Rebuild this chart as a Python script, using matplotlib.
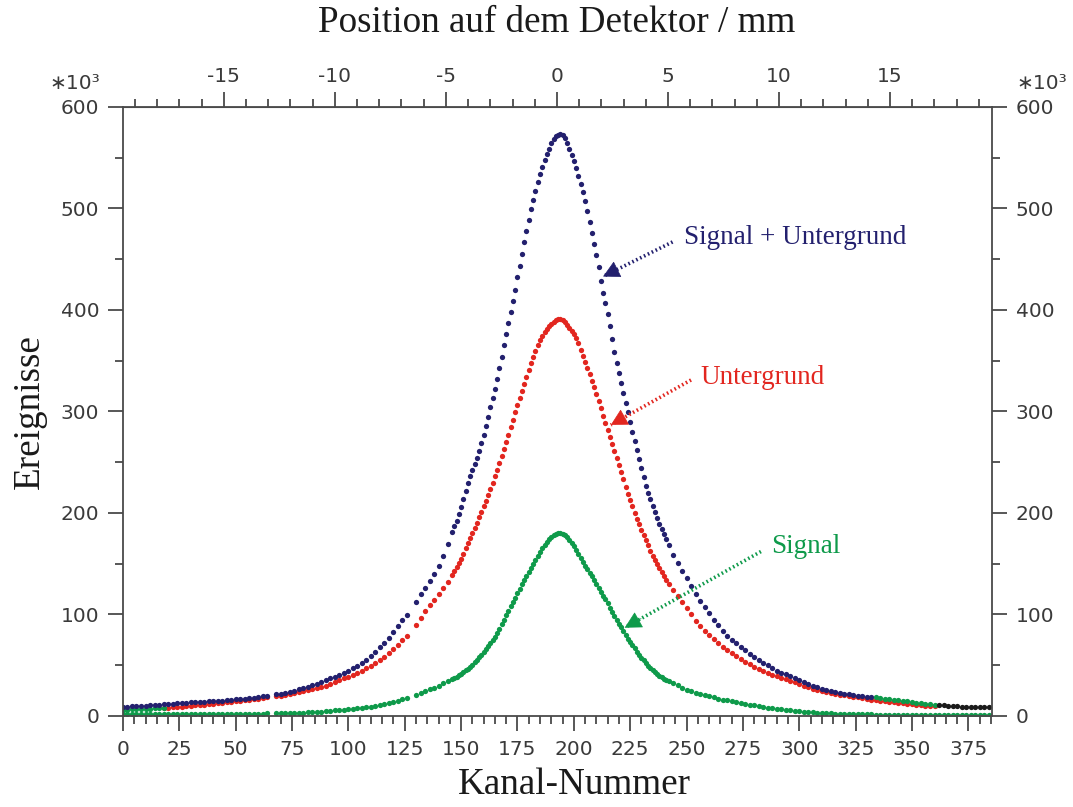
import numpy as np
import matplotlib
matplotlib.use("Agg")
import matplotlib.pyplot as plt
from matplotlib.ticker import MultipleLocator

# Kanal-Nummern: Flanken alle 2 Kanaele, Peakbereich jeder Kanal.
# Kanal 66 und 128 fehlen (Luecken im Original).
kanal = np.concatenate([np.arange(0, 146, 2), np.arange(146, 243), np.arange(244, 386, 2)])
kanal = kanal[(kanal != 66) & (kanal != 128)]

# Untergrund (rot), in 1e3 Ereignissen
untergrund = [
    # 0 .. 144 (step 2)
    6.0, 6.2, 6.4, 6.6, 6.8, 7.0, 7.2, 7.5, 7.8, 8.0,
    8.3, 8.6, 9.0, 9.3, 9.7, 10.0, 10.4, 10.8, 11.2, 11.6,
    12.0, 12.5, 13.0, 13.6, 14.2, 14.7, 15.2, 15.7, 16.2, 16.6,
    17.0, 17.6, 18.2, 19.3, 20.0, 20.8, 21.7, 22.6, 23.5,
    24.5, 25.5, 26.5, 27.6, 28.8, 30.0, 31.5, 33.2, 35.0, 37.0,
    38.8, 40.6, 42.5, 44.5, 46.8, 49.0, 52.0, 55.0, 58.5, 62.0,
    66.0, 70.0, 74.5, 79.0, 90.0, 97.0, 103.0, 109.0, 114.0,
    120.0, 126.0, 132.0,
    # 146 .. 242
    139, 143, 147, 151, 155, 160, 165, 170, 175, 180,
    185, 190, 196, 201, 207, 212, 218, 224, 230, 236,
    242, 249, 256, 263, 270, 277, 285, 292, 299, 306,
    313, 320, 327, 334, 341, 348, 354, 360, 365, 370,
    374, 378, 381, 384, 386, 388, 390, 391, 391, 390,
    388, 385, 382, 379, 376, 372, 367, 361, 355, 349,
    343, 337, 330, 324, 317, 310, 303, 296, 289, 282,
    275, 268, 261, 254, 247, 240, 233, 226, 219, 213,
    207, 200, 194, 189, 183, 178, 173, 168, 163, 158,
    154, 150, 146, 142, 138, 134, 130,
    # 244 .. 384 (step 2)
    124, 118, 112, 106, 100, 94, 89, 84, 80, 76,
    72, 68, 65, 62, 59, 56, 53, 51, 48.5, 46,
    44, 42, 40.5, 39, 37.5, 36, 34.5, 33, 31.5, 30,
    28.5, 27, 26, 25, 24, 23, 22, 21, 20.2, 19.5,
    19, 18.3, 17.5, 16.8, 16.2, 15.6, 15.0, 14.5, 14.0, 13.4,
    12.8, 12.3, 11.9, 11.5, 11.0, 10.6, 10.2, 9.8, 9.5, 9.2,
    9.0, 8.8, 8.6, 8.4, 8.2, 8.0, 7.8, 7.6, 7.4, 7.2,
    7.0,
]

# Signal + Untergrund (blau)
summe = [
    9.0, 9.2, 9.4, 9.6, 9.8, 10.0, 10.4, 10.8, 11.2, 11.5,
    11.8, 12.1, 12.4, 12.7, 13.1, 13.5, 13.7, 13.9, 14.1, 14.3,
    14.6, 14.9, 15.2, 15.5, 15.9, 16.3, 16.7, 17.1, 17.6, 18.1,
    18.7, 19.3, 19.9, 21.2, 22.0, 23.0, 24.0, 25.0, 26.2,
    27.5, 28.8, 30.1, 31.5, 33.0, 35.0, 37.0, 38.5, 40.0, 42.0,
    44.3, 46.8, 49.5, 52.3, 55.3, 59.0, 63.5, 67.5, 72.0, 77.0,
    83.0, 89.0, 94.5, 99.5, 112, 120, 126, 133, 140,
    148, 158, 169,
    181, 187, 192, 199, 206, 214, 222, 230, 236, 242,
    248, 254, 261, 269, 277, 286, 295, 304, 313, 322,
    332, 343, 354, 365, 376, 387, 398, 409, 420, 432,
    443, 455, 467, 478, 489, 499, 508, 517, 526, 534,
    541, 548, 554, 559, 564, 568, 571, 572, 573, 572,
    569, 564, 559, 553, 547, 540, 532, 524, 516, 507,
    497, 487, 476, 465, 454, 442, 429, 417, 407, 396,
    384, 371, 359, 348, 338, 328, 318, 308, 299, 290,
    280, 271, 262, 253, 244, 235, 227, 220, 214, 207,
    201, 195, 189, 184, 179, 174, 168,
    159, 151, 143, 136, 128, 120, 113, 107, 101, 95,
    89.5, 84, 79, 75, 71.5, 68, 64.5, 61, 58, 55,
    52.3, 49.8, 47.3, 44.5, 42.5, 41, 39, 37, 35, 33.2,
    31.5, 30, 28.5, 27, 26, 25, 24, 23, 22, 21.2,
    20.6, 20, 19.5, 19, 18.6, 18.2, 17.6, 17, 16.5, 16,
    15.5, 15, 14.3, 13.7, 13.1, 12.6, 12.1, 11.6, 11.1, 10.7,
    10.4, 10.1, 9.8, 9.5, 9.3, 9.1, 9.0, 8.8, 8.7, 8.8,
    9.2,
]

# Signal (gruen)
signal = [
    1.5, 1.5, 1.5, 1.5, 1.5, 1.5, 1.5, 1.6, 1.6, 1.6,
    1.7, 1.7, 1.7, 1.8, 1.8, 1.8, 1.9, 1.9, 1.9, 2.0,
    2.0, 2.0, 2.0, 2.1, 2.1, 2.1, 2.2, 2.2, 2.3, 2.3,
    2.4, 2.4, 2.5, 2.6, 2.7, 2.8, 2.9, 3.0, 3.2,
    3.4, 3.6, 3.8, 4.0, 4.3, 4.6, 5.0, 5.4, 5.8, 6.2,
    6.6, 7.0, 7.5, 8.0, 8.6, 9.2, 10.0, 10.8, 11.8, 12.8,
    14.0, 15.2, 16.6, 18.0, 21.0, 22.7, 24.4, 26.2, 28.0,
    30.0, 32.0, 34.0,
    36, 37.3, 38.6, 40, 41.5, 43, 44.8, 46.6, 48.6, 50.6,
    52.8, 55, 57.7, 60.5, 63.4, 66, 68.8, 71.6, 74.8, 78.1,
    81.5, 85.8, 90.2, 94.6, 99, 103.5, 108, 112.3, 116.6, 121,
    125.3, 129.6, 134, 138, 142, 146, 150, 154, 158, 161.5,
    165, 168, 171, 174, 176.5, 178, 179.3, 180, 180, 179.5,
    178.3, 176, 173, 170, 167, 163.5, 160, 156, 152, 148,
    144.5, 141, 137.5, 134, 130, 126, 122, 118.5, 115, 111,
    106.5, 102, 98, 94.5, 91, 87.5, 84, 80, 76, 72.5,
    69.5, 66.5, 63.5, 60.5, 57.5, 54.8, 52, 49.5, 47, 45,
    43, 41.3, 39.6, 38, 36.9, 35.8, 34.8,
    32.6, 30.2, 28, 26, 24.5, 23, 21.5, 20.3, 19.3, 18.3,
    17.2, 16.2, 15.3, 14.5, 13.6, 12.8, 12, 11.2, 10.4, 9.6,
    8.9, 8.3, 7.7, 7.1, 6.6, 6.1, 5.6, 5.1, 4.7, 4.3,
    3.9, 3.6, 3.3, 3.0, 2.8, 2.6, 2.4, 2.2, 2.1, 2.0,
    1.9, 1.8, 1.7, 1.6, 1.5, 1.4, 1.3, 1.2, 1.1, 1.0,
    1.0, 1.0, 1.0, 1.0, 1.0, 1.0, 1.0, 1.0, 1.0, 1.0,
    1.0, 1.0, 1.0, 1.0, 1.0, 1.0, 1.0, 1.0, 1.0, 1.0,
    1.0,
]

assert len(kanal) == len(untergrund) == len(summe) == len(signal)
untergrund = np.array(untergrund)
summe = np.array(summe)
signal = np.array(signal)

navy = "#23206e"
red = "#e2261f"
green = "#0e9a4a"

plt.rcParams["axes.unicode_minus"] = False
tick_font = "DejaVu Sans"
serif = "Liberation Serif"

fig = plt.figure(figsize=(10.73, 8.07), dpi=100)
ax = fig.add_axes([0.1146, 0.1128, 0.8099, 0.7547])

dot = dict(ls="none", marker="o", ms=3.8, mew=0)
ax.plot(kanal, signal, color=green, **dot)
m = (kanal >= 18) & (kanal <= 360)
ax.plot(kanal[m], untergrund[m], color=red, **dot)
m = kanal <= 18
ax.plot(kanal[m], untergrund[m], color=green, **dot)
m = kanal <= 332
ax.plot(kanal[m], summe[m], color=navy, **dot)
m = (kanal > 332) & (kanal <= 360)
ax.plot(kanal[m], summe[m], color=green, **dot)
m = kanal > 360
ax.plot(kanal[m], summe[m], color="#1a1a1a", **dot)

ax.set_xlim(0, 385.5)
ax.set_ylim(0, 600)

# Beschriftungen mit gepunkteten Pfeilen
labels = [("Signal + Untergrund", (249, 471), (243.8, 467), (213.0, 433.0), navy),
          ("Untergrund", (256, 333), (252, 331), (216.4, 286.7), red),
          ("Signal", (287.5, 167), (283, 162), (222.6, 87.0), green)]
for txt, pos, start, tip, c in labels:
    ax.text(pos[0], pos[1], txt, color=c, fontsize=19.5, family=serif,
            ha="left", va="center")
    ax.plot([start[0], tip[0]], [start[1], tip[1]], color=c, lw=2.6,
            ls=(0, (0.45, 0.75)))
    back = (tip[0] + 0.12 * (start[0] - tip[0]), tip[1] + 0.12 * (start[1] - tip[1]))
    ax.annotate("", xy=tip, xytext=back,
                arrowprops=dict(arrowstyle="-|>,head_length=0.6,head_width=0.32",
                                lw=0.5, color=c, shrinkA=0, shrinkB=0,
                                mutation_scale=18))

# Achsen / Ticks
spine_c = "#4a4a4a"
for s in ax.spines.values():
    s.set_color(spine_c)
    s.set_linewidth(1.3)

ax.xaxis.set_major_locator(MultipleLocator(25))
ax.xaxis.set_minor_locator(MultipleLocator(5))
ax.yaxis.set_major_locator(MultipleLocator(100))
ax.yaxis.set_minor_locator(MultipleLocator(50))
ax.tick_params(which="both", direction="out", colors=spine_c, width=1.3,
               labelcolor="#3a3a3a", labelsize=14.5,
               left=True, right=True, labelleft=True, labelright=True,
               top=False, bottom=True)
ax.tick_params(which="major", length=11, pad=6)
ax.tick_params(which="minor", length=6)
for lab in ax.get_xticklabels() + ax.get_yticklabels():
    lab.set_family(tick_font)

mm_per_kanal = 0.10153
k0 = 192.5
top = ax.secondary_xaxis("top", functions=(lambda k: (k - k0) * mm_per_kanal,
                                           lambda p: p / mm_per_kanal + k0))
top.xaxis.set_major_locator(MultipleLocator(5))
top.xaxis.set_minor_locator(MultipleLocator(1))
top.spines["top"].set_color(spine_c)
top.tick_params(which="both", direction="out", colors=spine_c, width=1.3,
                labelcolor="#3a3a3a", labelsize=14.5)
top.tick_params(which="major", length=11, pad=4)
top.tick_params(which="minor", length=6)

fig.text(0.0932, 0.897, "\u221710\u00b3", fontsize=14.5, color="#3a3a3a",
         family=tick_font, ha="right", va="center")
fig.text(0.947, 0.897, "\u221710\u00b3", fontsize=14.5, color="#3a3a3a",
         family=tick_font, ha="left", va="center")

fig.text(0.519, 0.972, "Position auf dem Detektor / mm", fontsize=26.7,
         family=serif, ha="center", va="center", color="#1a1a1a")
fig.text(0.535, 0.027, "Kanal-Nummer", fontsize=26.7,
         family=serif, ha="center", va="center", color="#1a1a1a")
fig.text(0.028, 0.49, "Ereignisse", fontsize=26.7, rotation=90,
         family=serif, ha="center", va="center", color="#1a1a1a")

fig.savefig("out.png", dpi=100)
